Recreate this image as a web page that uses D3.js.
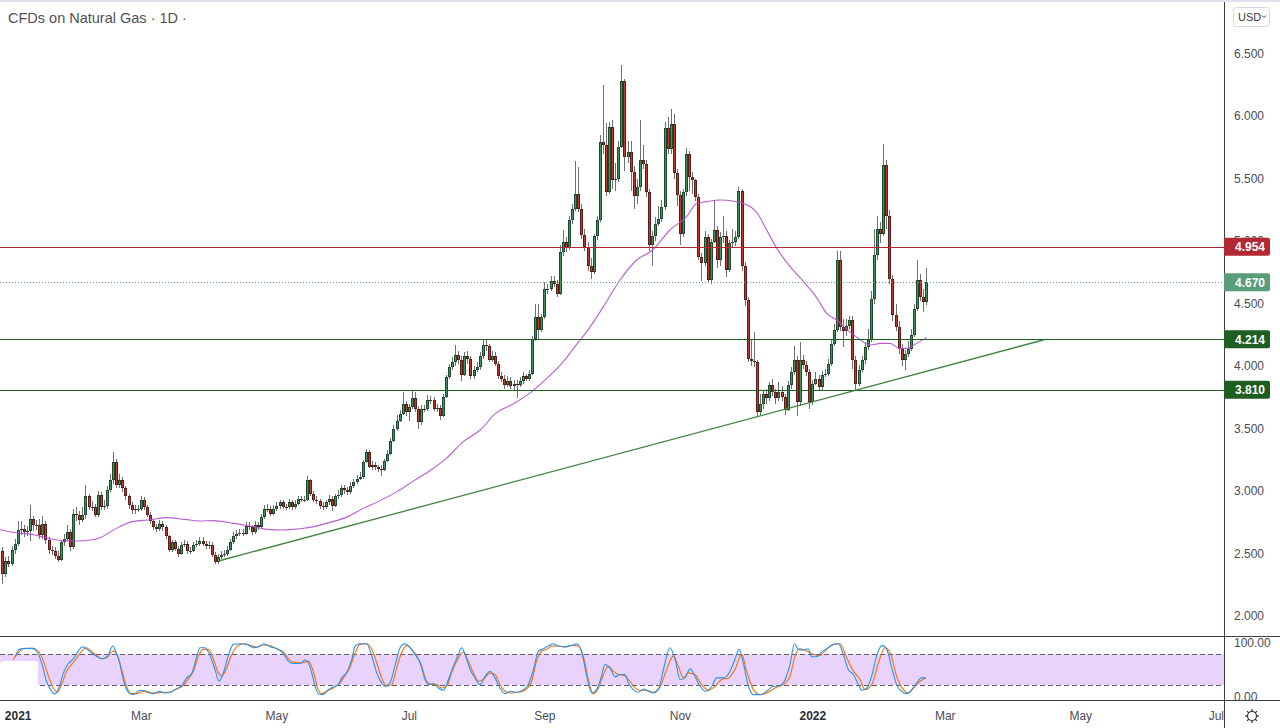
<!DOCTYPE html>
<html><head><meta charset="utf-8">
<script src="https://cdn.jsdelivr.net/npm/d3@7"></script>
<style>
body{margin:0;background:#fff;}
svg{display:block;font-family:"Liberation Sans",Arial,sans-serif;}
</style></head>
<body><svg id="c" width="1280" height="728"></svg>
<script>
// ---------------- DATA ----------------
const title = "CFDs on Natural Gas · 1D ·";
const firstBar = -5;            // bar index of first candle (0 = 4 Jan 2021)
const firstOpen = 2.52;
const closes = [
2.34,2.44,2.42,2.53,2.58,2.69,2.70,2.67,2.68,2.78,
2.73,2.73,2.65,2.74,2.61,2.53,2.52,2.48,2.45,2.59,
2.62,2.67,2.55,2.82,2.81,2.77,2.81,2.96,2.875,2.87,
2.81,2.97,2.875,2.88,3.01,3.09,3.23,3.05,3.09,3.02,
2.96,2.89,2.85,2.856,2.855,2.93,2.87,2.81,2.76,2.71,
2.70,2.74,2.71,2.64,2.53,2.59,2.54,2.50,2.57,2.58,
2.52,2.52,2.57,2.58,2.60,2.58,2.56,2.57,2.49,2.43,
2.475,2.49,2.495,2.53,2.595,2.64,2.66,2.665,2.66,2.72,
2.71,2.675,2.73,2.71,2.79,2.855,2.86,2.82,2.86,2.88,
2.91,2.875,2.87,2.91,2.87,2.90,2.935,2.93,2.93,3.09,
2.98,2.93,2.92,2.88,2.875,2.91,2.94,2.88,2.96,2.97,
3.02,3.01,2.995,3.04,3.075,3.10,3.115,3.235,3.315,3.195,
3.21,3.19,3.175,3.17,3.24,3.30,3.40,3.50,3.56,3.62,
3.70,3.63,3.67,3.74,3.66,3.55,3.66,3.655,3.73,3.73,
3.66,3.665,3.60,3.755,3.915,3.995,4.03,4.09,4.05,3.93,
4.08,4.06,3.92,3.97,3.99,4.08,4.17,4.16,4.05,4.08,
4.02,3.92,3.90,3.85,3.88,3.84,3.86,3.85,3.88,3.92,
3.90,3.94,4.22,4.395,4.29,4.395,4.62,4.62,4.68,4.66,
4.58,4.915,4.995,4.94,5.17,5.26,5.38,5.26,5.05,4.95,
4.80,4.75,5.04,5.17,5.79,5.77,5.395,5.915,5.49,5.50,
5.755,6.28,5.675,5.715,5.555,5.36,5.43,5.65,5.615,5.39,
4.97,5.04,5.14,5.18,5.275,5.90,5.735,5.935,5.54,5.37,
5.06,5.39,5.70,5.51,5.485,5.355,4.875,4.82,5.035,4.69,
4.995,5.09,4.85,5.035,5.04,4.77,4.98,4.99,5.035,5.40,
4.80,4.53,4.06,4.04,4.035,3.635,3.70,3.78,3.74,3.85,
3.79,3.74,3.795,3.755,3.65,3.85,3.95,4.05,3.71,4.05,
4.01,3.955,3.71,3.86,3.90,3.83,3.93,3.94,4.02,4.18,
4.29,4.85,4.315,4.28,4.32,4.37,4.05,3.86,3.97,4.05,
4.155,4.21,4.54,4.89,5.10,5.06,5.61,5.20,4.70,4.41,
4.315,4.14,4.05,4.10,4.14,4.25,4.46,4.69,4.555,4.51,
4.67];
const highs = [
2.55,2.47,2.48,2.56,2.62,2.76,2.76,2.73,2.72,2.89,
2.80,2.77,2.78,2.80,2.76,2.63,2.56,2.55,2.52,2.61,
2.66,2.73,2.70,2.86,2.87,2.84,2.87,3.05,2.98,2.92,
2.90,3.00,2.99,2.93,3.04,3.14,3.31,3.26,3.14,3.11,
3.04,2.98,2.91,2.89,2.89,2.96,2.95,2.89,2.83,2.78,
2.74,2.77,2.76,2.73,2.65,2.61,2.61,2.56,2.59,2.61,
2.60,2.55,2.59,2.61,2.63,2.63,2.60,2.60,2.59,2.51,
2.50,2.52,2.53,2.56,2.62,2.67,2.69,2.70,2.70,2.75,
2.75,2.73,2.76,2.75,2.82,2.89,2.90,2.88,2.89,2.91,
2.93,2.93,2.90,2.94,2.93,2.93,2.96,2.96,2.96,3.12,
3.10,3.00,2.96,2.94,2.91,2.93,2.97,2.96,2.98,3.01,
3.05,3.05,3.03,3.07,3.10,3.13,3.15,3.25,3.34,3.33,
3.24,3.23,3.21,3.21,3.26,3.33,3.42,3.53,3.61,3.65,
3.79,3.72,3.70,3.80,3.79,3.68,3.69,3.69,3.77,3.76,
3.75,3.70,3.69,3.78,3.93,4.02,4.07,4.17,4.12,4.08,
4.11,4.12,4.08,4.00,4.03,4.11,4.21,4.21,4.18,4.12,
4.11,4.04,3.95,3.93,3.92,3.91,3.89,3.89,3.91,3.95,
3.94,3.97,4.24,4.50,4.50,4.42,4.675,4.66,4.72,4.72,
4.69,4.97,5.09,5.03,5.20,5.30,5.64,5.59,5.30,5.10,
4.99,4.86,5.06,5.20,5.85,6.25,5.94,5.95,5.97,5.62,
5.80,6.41,6.30,5.80,5.80,5.60,5.50,5.97,5.77,5.65,
5.42,5.08,5.19,5.28,5.33,5.95,5.99,6.06,6.02,5.58,
5.40,5.42,5.74,5.72,5.55,5.50,5.38,4.90,5.08,5.06,
5.02,5.33,5.12,5.07,5.20,5.08,5.01,5.10,5.08,5.43,
5.42,4.83,4.55,4.22,4.27,4.05,3.78,3.80,3.82,3.87,
3.90,3.82,3.87,3.84,3.78,3.88,3.99,4.16,4.08,4.19,
4.09,4.04,3.98,3.89,3.95,3.93,3.96,3.98,4.06,4.22,
4.34,4.92,4.92,4.38,4.38,4.40,4.40,4.08,4.01,4.08,
4.19,4.30,4.60,5.10,5.20,5.15,5.78,5.65,5.25,4.73,
4.50,4.36,4.18,4.13,4.20,4.30,4.50,4.85,4.74,4.62,
4.78];
const lows = [
2.26,2.31,2.39,2.40,2.50,2.56,2.65,2.63,2.64,2.60,
2.68,2.69,2.62,2.62,2.58,2.50,2.49,2.46,2.43,2.44,
2.56,2.60,2.52,2.54,2.76,2.73,2.75,2.78,2.85,2.84,
2.79,2.79,2.85,2.85,2.86,2.99,3.06,3.02,3.02,2.99,
2.93,2.86,2.82,2.82,2.83,2.84,2.85,2.79,2.74,2.69,
2.67,2.68,2.68,2.62,2.51,2.51,2.52,2.47,2.49,2.55,
2.50,2.50,2.51,2.55,2.56,2.56,2.54,2.54,2.47,2.42,
2.42,2.46,2.47,2.48,2.52,2.58,2.62,2.64,2.64,2.65,
2.69,2.65,2.66,2.69,2.70,2.78,2.83,2.80,2.81,2.84,
2.86,2.86,2.85,2.86,2.85,2.86,2.89,2.91,2.91,2.92,
2.96,2.91,2.90,2.86,2.85,2.86,2.89,2.84,2.87,2.94,
2.95,2.98,2.97,2.98,3.02,3.06,3.09,3.10,3.22,3.18,
3.17,3.17,3.15,3.12,3.16,3.23,3.29,3.39,3.48,3.55,
3.61,3.60,3.56,3.66,3.63,3.50,3.53,3.63,3.64,3.70,
3.64,3.63,3.57,3.59,3.74,3.90,3.97,4.00,4.02,3.88,
3.92,4.02,3.90,3.90,3.95,3.97,4.06,4.12,4.03,4.03,
4.00,3.90,3.87,3.82,3.83,3.82,3.80,3.74,3.83,3.86,
3.88,3.88,3.93,4.20,4.21,4.27,4.38,4.58,4.60,4.63,
4.55,4.57,4.88,4.91,4.93,5.14,5.24,5.23,5.02,4.92,
4.76,4.70,4.74,5.01,5.15,5.70,5.36,5.38,5.42,5.40,
5.47,5.74,5.56,5.62,5.40,5.26,5.30,5.40,5.58,5.35,
4.92,4.80,5.00,5.12,5.15,5.25,5.70,5.70,5.50,5.28,
4.97,5.03,5.36,5.40,5.38,5.32,4.85,4.68,4.80,4.67,
4.66,4.98,4.78,4.80,4.98,4.71,4.75,4.95,4.96,5.02,
4.76,4.48,4.03,4.00,3.99,3.60,3.61,3.66,3.70,3.72,
3.76,3.70,3.72,3.72,3.61,3.64,3.82,3.93,3.60,3.68,
3.98,3.92,3.66,3.69,3.85,3.80,3.81,3.91,3.92,4.00,
4.16,4.27,4.28,4.15,4.24,4.30,3.98,3.81,3.84,3.95,
4.02,4.13,4.19,4.50,4.85,4.98,5.04,5.10,4.66,4.36,
4.28,4.10,4.00,3.97,4.07,4.12,4.23,4.44,4.52,4.43,
4.49];
// 50-day moving average: [bar index, value]
const maPoints = [[-6,2.69],[-2,2.67],[5,2.65],[10,2.62],[16,2.60],[19,2.60],[24,2.61],[27,2.63],[30,2.675],[33,2.715],[37,2.755],[43,2.77],[48,2.787],[54,2.773],[59,2.76],[63,2.763],[70,2.741],[75,2.72],[81,2.693],[86,2.688],[89,2.693],[92,2.70],[96,2.715],[101,2.747],[107,2.795],[112,2.861],[117.5,2.923],[123,2.995],[128,3.075],[134,3.168],[139,3.261],[144.5,3.395],[150,3.488],[155,3.621],[161,3.701],[166,3.781],[171.6,3.901],[177,4.035],[182,4.195],[184.6,4.275],[190,4.475],[195.4,4.688],[200.8,4.848],[206,4.928],[211.6,5.088],[217,5.195],[220.3,5.30],[223.5,5.315],[228,5.328],[232,5.32],[235,5.305],[238,5.27],[240,5.22],[243,5.088],[246.3,4.941],[250.6,4.795],[255,4.675],[259,4.555],[262.5,4.421],[265.7,4.368],[269,4.293],[272,4.235],[276.6,4.168],[280,4.181],[283,4.181],[286.3,4.141],[288.5,4.141],[291.7,4.181],[295,4.229]];
// Stochastic %K / %D
const stochK = [[-1.0,74.8],[0.4,89.2],[2.2,91.1],[4.9,91.1],[6.2,84],[7.6,63.1],[9.2,27.3],[10.5,11],[11.9,2.6],[13.4,17.5],[14.7,43.6],[16.1,59.9],[17.9,70.9],[19.5,85.9],[20.9,94.4],[22.4,89.2],[24.4,79.4],[25.7,74.8],[27.1,70.9],[29,76.1],[30.7,95.7],[31.8,82.6],[32.8,66.4],[34.1,30.6],[35.8,5.8],[37.4,1.3],[39.5,9.7],[41.7,7.8],[43.9,3.2],[45.8,7.8],[47.7,4.5],[49.3,5.8],[50.9,11],[53.1,18.9],[54.7,33.8],[56.3,42.3],[58,76.1],[59,92.4],[60.6,92.4],[62.1,79.4],[63.9,50.1],[65.2,27.3],[66.8,46.8],[68.5,82.6],[69.9,98.9],[72,100],[74.2,98.9],[76.3,92.4],[78,94.4],[79.8,100],[81.8,94.4],[83.9,90.5],[85.9,82.6],[87.7,66.4],[89.3,61.8],[91.5,61.8],[93.1,68.3],[94.2,63.1],[95.3,43.6],[96.4,17.5],[97.4,3.2],[99,1.3],[100.7,11],[102.3,16.3],[103.9,20.8],[105,33.8],[106.6,43.6],[108.3,69.6],[109.4,95.7],[111,100],[113.1,100],[114.8,76.1],[116.4,43.6],[118,24],[119.1,17.5],[120.7,24],[122.3,56.6],[124,92.4],[125.6,100],[127.2,92.4],[128.8,79.4],[130.5,63.1],[132.1,30.6],[133.2,20.8],[134.8,22.8],[136.4,14.3],[138,9.7],[139.7,30.6],[141.3,56.6],[142.9,79.4],[144,92.4],[145.1,79.4],[146.7,50.1],[148.3,33.8],[149.9,20.8],[151.6,37.1],[153.2,46.8],[154.8,33.8],[156.4,14.3],[158.1,3.2],[159.7,7.8],[161.8,5.8],[164,11],[165.6,20.8],[167.3,50.1],[168.9,85.9],[170.5,90.5],[172.1,95.7],[173.7,100],[175.4,95.7],[177.5,94.4],[179.7,97],[181.3,100],[183,82.6],[184.6,37.1],[186.2,4.5],[187.8,11],[189.4,37.1],[190.5,59.9],[192.1,53.4],[193.8,35.8],[195.4,40.3],[197,40.3],[198.1,24],[199.7,11],[201.3,5.8],[203,12.3],[204.6,7.8],[206.2,4.5],[207.8,11],[209.5,50.1],[211.6,92.4],[213.3,69.6],[214.9,30.6],[216.5,33.8],[218.1,51.4],[219.7,37.1],[221.4,17.5],[223.3,7.8],[225.2,17.5],[226.8,33.8],[229,33.8],[231.1,46.8],[232.7,69.6],[234.1,89.2],[235.4,63.1],[237.1,17.5],[238.7,1.3],[240.9,1.3],[243,7.8],[245.2,17.5],[247.3,18.9],[249,30.6],[250.6,59.9],[252,100],[253.3,89.2],[254.9,87.9],[256.5,90.5],[257.6,74.8],[259.2,74.8],[260.9,84],[263,92.4],[264.7,98.9],[266.3,100],[267.9,79.4],[269.5,50.1],[271.2,40.3],[272.8,20.8],[273.9,9.7],[275.5,14.3],[277.1,37.1],[278.7,76.1],[280.4,97],[282,89.2],[283.6,53.4],[285.2,20.8],[286.8,7.8],[288.5,3.2],[290.1,11],[291.7,24],[293.3,33.8],[294.7,33.8]];
const stochD = [[-1.6,69.6],[0,82.6],[1.7,90.5],[4.4,91.1],[6.5,85.9],[8.2,66.4],[9.8,37.1],[11.4,14.3],[12.7,5.8],[14.1,20.8],[15.7,46.8],[17.4,59.9],[19,72.9],[20.6,85.9],[22.2,92.4],[23.9,84],[25.5,77.4],[27.1,70.9],[28.7,72.9],[30.9,85.9],[32.5,72.9],[33.6,50.1],[35,20.8],[36.5,3.2],[38.5,3.2],[40.6,7.8],[42.8,4.5],[45,4.5],[47.1,5.8],[49.3,5.8],[51.4,12.3],[53.6,18.9],[55.2,31.9],[56.9,46.8],[58.5,76.1],[60.1,89.2],[61.7,89.2],[63.4,69.6],[65,43.6],[66.1,37.1],[67.7,53.4],[69.3,79.4],[71,94.4],[73.1,100],[75.3,97],[77.4,93.7],[79.6,97.6],[81.2,97],[83.9,90.5],[86.1,84],[88.2,68.3],[90.4,63.1],[92.6,63.1],[94.2,66.4],[95.8,46.8],[97.4,11],[98.5,3.2],[100.1,7.8],[102.3,14.3],[104.5,24],[106.1,38.4],[107.7,53.4],[109.4,82.6],[111,98.9],[113.1,100],[114.8,89.2],[116.4,63.1],[118,33.8],[119.6,17.5],[121.3,20.8],[122.9,53.4],[124.5,82.6],[126.1,97],[127.8,89.2],[129.4,76.1],[131,56.6],[132.6,27.3],[134.2,20.8],[135.9,20.8],[137.5,14.3],[139.1,17.5],[140.7,43.6],[142.4,66.4],[144.5,84],[146.1,66.4],[147.8,43.6],[149.4,27.3],[151,30.6],[153.2,43.6],[154.8,40.3],[156.4,20.8],[158.1,7.8],[159.7,4.5],[162.4,5.8],[164.5,9.7],[166.7,27.3],[168.3,66.4],[170,85.9],[171.6,89.2],[173.2,95.7],[175.4,95.7],[177.5,93.7],[180.2,97],[181.9,95.7],[183.5,76.1],[185.1,30.6],[186.7,3.2],[188.4,14.3],[190,40.3],[191.6,56.6],[193.2,46.8],[194.9,40.3],[196.5,39],[198.6,27.3],[200.3,14.3],[201.9,9.7],[204.1,9.7],[206.2,5.8],[208.4,16.3],[210.5,50.1],[212.7,76.1],[214.3,56.6],[216,33.8],[217.6,43.6],[219.7,40.3],[221.9,20.8],[224.1,9.7],[226.2,17.5],[228.4,30.6],[230.6,33.8],[232.7,50.1],[234.9,79.4],[236.5,46.8],[238.7,11],[240.9,1.3],[243.5,5.8],[245.7,14.3],[248.4,20.8],[250.6,37.1],[252.2,76.1],[253.8,90.5],[256,86],[258.2,79.4],[260.3,77.4],[262.5,89.2],[264.7,98.9],[266.8,100],[269,72.9],[271.2,46.8],[273.3,30.6],[274.9,11],[277.1,20.8],[279.3,63.1],[281.4,92.4],[283.1,82.6],[285.2,37.1],[287.4,11],[289,4.5],[291.2,17.5],[292.8,27.3],[294.7,33.8]];
const stochBands = [20, 80];
const stochTicks = [0, 100];
const levels = [
  {value: 4.954, color: "#b22833"},
  {value: 4.214, color: "#1e5e21"},
  {value: 3.810, color: "#1e5e21"}
];
const lastPrice = 4.670;
const trendLine = [[65, 2.44], [333.7, 4.214]];
const priceTicks = [2.0, 2.5, 3.0, 3.5, 4.0, 4.5, 5.0, 5.5, 6.0, 6.5];
const timeTicks = [["2021",0,true],["Mar",40],["May",84],["Jul",127],["Sep",171],["Nov",215],["2022",258,true],["Mar",301],["May",345],["Jul",389]];

// ---------------- LAYOUT ----------------
const W = 1280, H = 728;
const paneRight = 1224;           // right price axis line
const mainTop = 0, mainBottom = 636, stTop = 636, stBottom = 700;
const svg = d3.select("#c");

const x = d3.scaleLinear().domain([0, 100]).range([18.2, 18.2 + 308]);  // bar index -> px
const y = d3.scaleLinear().domain([4, 5]).range([366, 241]);             // price -> px
const ys = d3.scaleLinear().domain([0, 100]).range([695.3, 643.8]);      // stoch -> px

const col = {
  upFill: "#41925f", upBorder: "#1c4a2c",
  dnFill: "#c7372d", dnBorder: "#5e1b16",
  wick: "#707070",
  ma: "#b24ccb",
  k: "#2196f3", d: "#ff6d00",
  axis: "#3d3f45", text: "#4a4d57"
};

svg.append("rect").attr("width", W).attr("height", H).attr("fill", "#fff");

const defs = svg.append("defs");
defs.append("clipPath").attr("id", "clipMain").append("rect")
  .attr("x", 0).attr("y", mainTop + 2).attr("width", paneRight).attr("height", mainBottom - mainTop - 2);
defs.append("clipPath").attr("id", "clipSt").append("rect")
  .attr("x", 0).attr("y", stTop + 1).attr("width", paneRight).attr("height", stBottom - stTop - 1);

// ---------------- MAIN PANE ----------------
const gMain = svg.append("g").attr("clip-path", "url(#clipMain)");

// candles
const bars = closes.map((c, k) => {
  const o = k === 0 ? firstOpen : closes[k - 1];
  return {i: firstBar + k, o, c, h: Math.max(highs[k], o, c), l: Math.min(lows[k], o, c)};
});
const gC = gMain.append("g");
bars.forEach(b => {
  const left = Math.round(x(b.i) - 1.5);
  const up = b.c >= b.o;
  gC.append("line")
    .attr("x1", left + 1.5).attr("x2", left + 1.5)
    .attr("y1", Math.round(y(b.h))).attr("y2", Math.round(y(b.l)))
    .attr("stroke", col.wick).attr("stroke-width", 1);
  const top = Math.round(y(Math.max(b.o, b.c)));
  const bot = Math.round(y(Math.min(b.o, b.c)));
  const hgt = Math.max(bot - top, 1);
  gC.append("rect")
    .attr("x", left + 0.5).attr("y", top + 0.5)
    .attr("width", 2).attr("height", Math.max(hgt - 1, 0.01))
    .attr("fill", up ? col.upFill : col.dnFill)
    .attr("stroke", up ? col.upBorder : col.dnBorder).attr("stroke-width", 1);
});

// moving average
gMain.append("path")
  .datum(maPoints)
  .attr("d", d3.line().x(d => x(d[0])).y(d => y(d[1])).curve(d3.curveMonotoneX))
  .attr("fill", "none").attr("stroke", col.ma).attr("stroke-width", 1.1).attr("opacity", 0.9);

// horizontal levels
levels.forEach(L => {
  gMain.append("line").attr("x1", 0).attr("x2", paneRight)
    .attr("y1", Math.round(y(L.value)) + 0.5).attr("y2", Math.round(y(L.value)) + 0.5)
    .attr("stroke", L.color).attr("stroke-width", 1.2);
});
// last price dotted line
gMain.append("line").attr("x1", 0).attr("x2", paneRight)
  .attr("y1", Math.round(y(lastPrice)) + 0.5).attr("y2", Math.round(y(lastPrice)) + 0.5)
  .attr("stroke", "#5d9c7b").attr("stroke-width", 1).attr("stroke-dasharray", "1,2");
// trend line
gMain.append("line")
  .attr("x1", x(trendLine[0][0])).attr("y1", y(trendLine[0][1]))
  .attr("x2", x(trendLine[1][0])).attr("y2", y(trendLine[1][1]))
  .attr("stroke", "#3e8440").attr("stroke-width", 1.3);

// title
svg.append("text").attr("x", 8).attr("y", 23).attr("font-size", 14.5)
  .attr("fill", "#4f5159").text(title);

// ---------------- STOCH PANE ----------------
const gSt = svg.append("g").attr("clip-path", "url(#clipSt)");
gSt.append("rect").attr("x", 0).attr("width", paneRight)
  .attr("y", ys(stochBands[1])).attr("height", ys(stochBands[0]) - ys(stochBands[1]))
  .attr("fill", "#e9d3fc");
stochBands.forEach(v => {
  gSt.append("line").attr("x1", 0).attr("x2", paneRight)
    .attr("y1", Math.round(ys(v)) + 0.5).attr("y2", Math.round(ys(v)) + 0.5)
    .attr("stroke", "#5d5a66").attr("stroke-width", 1).attr("stroke-dasharray", "5,3");
});
const stLine = d3.line().x(d => x(d[0])).y(d => ys(d[1])).curve(d3.curveMonotoneX);
gSt.append("path").datum(stochD).attr("d", stLine).attr("fill", "none").attr("stroke", col.d).attr("stroke-width", 1.1);
gSt.append("path").datum(stochK).attr("d", stLine).attr("fill", "none").attr("stroke", col.k).attr("stroke-width", 1.1);
// logo badge area (white)
svg.append("rect").attr("x", 0).attr("y", 661).attr("width", 38).attr("height", 33).attr("rx", 3).attr("fill", "#fff");
svg.append("path").attr("d", "M 33 667 A 16 16 0 0 1 33 690").attr("fill", "none").attr("stroke", "#eeeeee").attr("stroke-width", 1);

// ---------------- FRAME ----------------
svg.append("rect").attr("x", 0).attr("y", 0).attr("width", W).attr("height", 2).attr("fill", "#e0e3eb");
svg.append("line").attr("x1", paneRight + 0.5).attr("x2", paneRight + 0.5).attr("y1", 2).attr("y2", H)
  .attr("stroke", col.axis).attr("stroke-width", 1);
[stTop, stBottom].forEach(yy => {
  svg.append("line").attr("x1", 0).attr("x2", W).attr("y1", yy + 0.5).attr("y2", yy + 0.5)
    .attr("stroke", col.axis).attr("stroke-width", 1);
});

// price axis labels
const gAx = svg.append("g").attr("font-size", 12).attr("fill", col.text);
priceTicks.forEach(v => {
  gAx.append("text").attr("x", 1234).attr("y", y(v)).attr("dy", "0.35em").text(d3.format(".3f")(v));
});
stochTicks.forEach(v => {
  gAx.append("text").attr("x", 1234).attr("y", ys(v) - (v === 100 ? 1 : -1)).attr("dy", "0.35em").text(d3.format(".2f")(v));
});

// price label boxes
function priceBox(v, fill) {
  const yy = y(v);
  svg.append("path")
    .attr("d", `M${paneRight},${yy - 9} H1268 a2,2 0 0 1 2,2 V${yy + 7} a2,2 0 0 1 -2,2 H${paneRight} Z`)
    .attr("fill", fill);
  svg.append("text").attr("x", 1235).attr("y", yy).attr("dy", "0.36em")
    .attr("font-size", 12).attr("font-weight", "bold").attr("fill", "#fff").text(d3.format(".3f")(v));
}
priceBox(levels[0].value, "#b22833");
priceBox(lastPrice, "#5b9d7a");
priceBox(levels[1].value, "#1e5e21");
priceBox(levels[2].value, "#1e5e21");

// time axis labels
const gT = svg.append("g").attr("font-size", 12).attr("text-anchor", "middle");
timeTicks.forEach(t => {
  const px = Math.max(x(t[1]), 14);
  gT.append("text").attr("x", px).attr("y", 716).attr("dy", "0.35em")
    .attr("fill", t[2] ? "#2a2d35" : col.text)
    .attr("font-weight", t[2] ? "bold" : "normal").text(t[0]);
});
// cover time labels over the price axis
svg.append("rect").attr("x", paneRight + 1).attr("y", stBottom + 1).attr("width", W - paneRight - 1).attr("height", H - stBottom - 1).attr("fill", "#fff");

// USD button
svg.append("rect").attr("x", 1233.5).attr("y", 7.5).attr("width", 36).attr("height", 19).attr("rx", 3)
  .attr("fill", "#fff").attr("stroke", "#d6d8de");
svg.append("text").attr("x", 1238).attr("y", 17).attr("dy", "0.35em").attr("font-size", 11).attr("fill", "#3c3f48").text("USD");
svg.append("path").attr("d", "M1262,15.5 l2,2 l2,-2").attr("fill", "none").attr("stroke", "#3c3f48").attr("stroke-width", 1);

// settings (sun) icon
const gi = svg.append("g").attr("transform", "translate(1252,716)").attr("stroke", "#2a2d35").attr("fill", "none").attr("stroke-width", 1.2);
gi.append("circle").attr("r", 4.5);
d3.range(8).forEach(k => {
  const a = k * Math.PI / 4;
  gi.append("line").attr("x1", Math.cos(a) * 4.5).attr("y1", Math.sin(a) * 4.5)
    .attr("x2", Math.cos(a) * 7).attr("y2", Math.sin(a) * 7);
});
</script>
</body></html>
